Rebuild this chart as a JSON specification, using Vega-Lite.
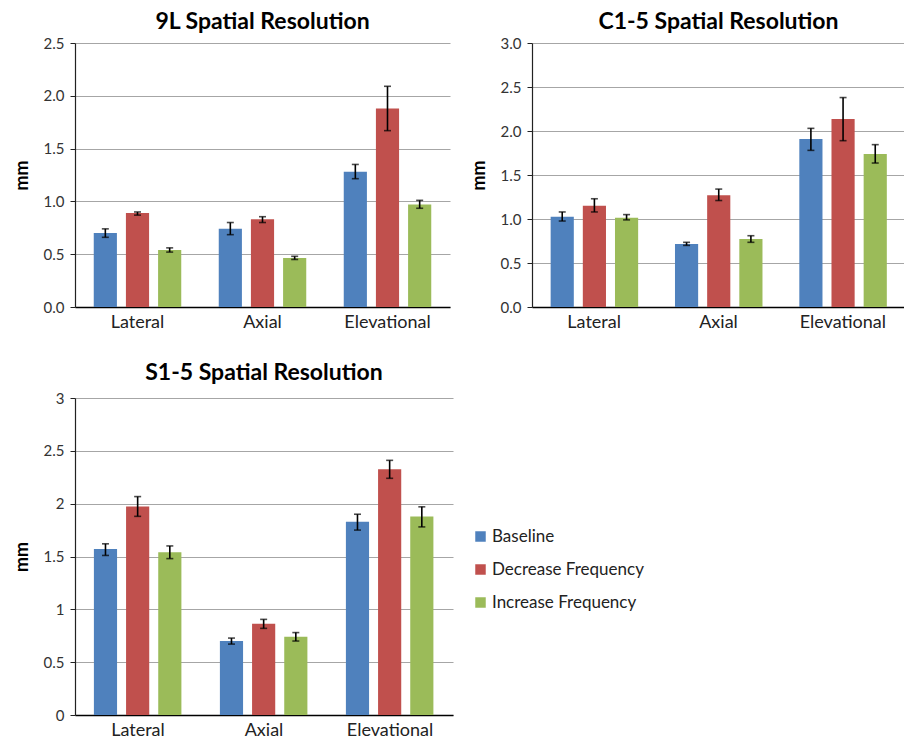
{
  "$schema": "https://vega.github.io/schema/vega-lite/v6.json",
  "padding": {"left": 13, "top": 11, "right": 0, "bottom": 0},
  "background": "white",
  "datasets": {
    "d": [
      {"panel": "9L", "dir": "Lateral", "cond": "Baseline", "value": 0.70, "lo": 0.66, "hi": 0.74},
      {"panel": "9L", "dir": "Lateral", "cond": "Decrease Frequency", "value": 0.89, "lo": 0.87, "hi": 0.90},
      {"panel": "9L", "dir": "Lateral", "cond": "Increase Frequency", "value": 0.54, "lo": 0.52, "hi": 0.56},
      {"panel": "9L", "dir": "Axial", "cond": "Baseline", "value": 0.74, "lo": 0.685, "hi": 0.80},
      {"panel": "9L", "dir": "Axial", "cond": "Decrease Frequency", "value": 0.83, "lo": 0.80, "hi": 0.855},
      {"panel": "9L", "dir": "Axial", "cond": "Increase Frequency", "value": 0.465, "lo": 0.45, "hi": 0.48},
      {"panel": "9L", "dir": "Elevational", "cond": "Baseline", "value": 1.28, "lo": 1.215, "hi": 1.35},
      {"panel": "9L", "dir": "Elevational", "cond": "Decrease Frequency", "value": 1.88, "lo": 1.67, "hi": 2.09},
      {"panel": "9L", "dir": "Elevational", "cond": "Increase Frequency", "value": 0.97, "lo": 0.935, "hi": 1.01},
      {"panel": "C1-5", "dir": "Lateral", "cond": "Baseline", "value": 1.025, "lo": 0.977, "hi": 1.08},
      {"panel": "C1-5", "dir": "Lateral", "cond": "Decrease Frequency", "value": 1.15, "lo": 1.08, "hi": 1.23},
      {"panel": "C1-5", "dir": "Lateral", "cond": "Increase Frequency", "value": 1.015, "lo": 0.99, "hi": 1.05},
      {"panel": "C1-5", "dir": "Axial", "cond": "Baseline", "value": 0.716, "lo": 0.70, "hi": 0.735},
      {"panel": "C1-5", "dir": "Axial", "cond": "Decrease Frequency", "value": 1.27, "lo": 1.21, "hi": 1.34},
      {"panel": "C1-5", "dir": "Axial", "cond": "Increase Frequency", "value": 0.773, "lo": 0.735, "hi": 0.81},
      {"panel": "C1-5", "dir": "Elevational", "cond": "Baseline", "value": 1.91, "lo": 1.78, "hi": 2.03},
      {"panel": "C1-5", "dir": "Elevational", "cond": "Decrease Frequency", "value": 2.135, "lo": 1.89, "hi": 2.38},
      {"panel": "C1-5", "dir": "Elevational", "cond": "Increase Frequency", "value": 1.74, "lo": 1.636, "hi": 1.845},
      {"panel": "S1-5", "dir": "Lateral", "cond": "Baseline", "value": 1.57, "lo": 1.51, "hi": 1.62},
      {"panel": "S1-5", "dir": "Lateral", "cond": "Decrease Frequency", "value": 1.973, "lo": 1.88, "hi": 2.067},
      {"panel": "S1-5", "dir": "Lateral", "cond": "Increase Frequency", "value": 1.54, "lo": 1.48, "hi": 1.60},
      {"panel": "S1-5", "dir": "Axial", "cond": "Baseline", "value": 0.70, "lo": 0.671, "hi": 0.728},
      {"panel": "S1-5", "dir": "Axial", "cond": "Decrease Frequency", "value": 0.864, "lo": 0.82, "hi": 0.905},
      {"panel": "S1-5", "dir": "Axial", "cond": "Increase Frequency", "value": 0.741, "lo": 0.70, "hi": 0.78},
      {"panel": "S1-5", "dir": "Elevational", "cond": "Baseline", "value": 1.828, "lo": 1.75, "hi": 1.90},
      {"panel": "S1-5", "dir": "Elevational", "cond": "Decrease Frequency", "value": 2.326, "lo": 2.24, "hi": 2.41},
      {"panel": "S1-5", "dir": "Elevational", "cond": "Increase Frequency", "value": 1.878, "lo": 1.78, "hi": 1.97}
    ]
  },
  "config": {
    "font": "Lato",
    "view": {"stroke": null},
    "title": {"fontSize": 23, "fontWeight": "bold", "font": "Lato", "color": "#000", "anchor": "middle", "offset": 2},
    "axisX": {"title": null, "labelAngle": 0, "ticks": false, "domainColor": "#000", "domainWidth": 1.5, "labelFontSize": 18, "labelColor": "#222", "labelPadding": 6, "grid": false, "labelFont": "Lato"},
    "axisY": {"titleFontSize": 18, "titleFontWeight": "bold", "titleColor": "#000", "titleFont": "Lato", "titlePadding": 12, "labelFontSize": 15, "labelColor": "#333", "labelPadding": 6, "labelFont": "Lato", "domainColor": "#222", "domainWidth": 1.2, "tickColor": "#222", "tickSize": 5, "gridColor": "#a6a6a6", "gridWidth": 1.2}
  },
  "resolve": {"legend": {"color": "independent"}},
  "spacing": 31,
  "vconcat": [
    {
      "hconcat": [
        {
          "title": "9L Spatial Resolution",
          "width": 375, "height": 264,
          "data": {"name": "d"},
          "transform": [{"filter": "datum.panel === '9L'"}],
          "encoding": {
            "x": {"field": "dir", "type": "nominal", "sort": ["Lateral", "Axial", "Elevational"], "scale": {"paddingInner": 0.3, "paddingOuter": 0.15}},
            "xOffset": {"field": "cond", "type": "nominal", "scale": {"paddingInner": 0.28}}
          },
          "layer": [
            {"mark": {"type": "bar"}, "encoding": {
              "y": {"field": "value", "type": "quantitative", "scale": {"domain": [0, 2.5], "nice": false}, "axis": {"title": "mm", "values": [0, 0.5, 1, 1.5, 2, 2.5], "format": ".1f"}},
              "color": {"field": "cond", "type": "nominal", "scale": {"domain": ["Baseline", "Decrease Frequency", "Increase Frequency"], "range": ["#4F81BD", "#C0504D", "#9BBB59"]}, "legend": null}}},
            {"mark": {"type": "rule", "color": "#000", "strokeWidth": 1.6}, "encoding": {"y": {"field": "lo", "type": "quantitative"}, "y2": {"field": "hi"}}},
            {"mark": {"type": "tick", "color": "#000", "size": 7, "thickness": 1.6}, "encoding": {"y": {"field": "lo", "type": "quantitative"}}},
            {"mark": {"type": "tick", "color": "#000", "size": 7, "thickness": 1.6}, "encoding": {"y": {"field": "hi", "type": "quantitative"}}}
          ]
        },
        {
          "title": "C1-5 Spatial Resolution",
          "width": 373, "height": 264,
          "data": {"name": "d"},
          "transform": [{"filter": "datum.panel === 'C1-5'"}],
          "encoding": {
            "x": {"field": "dir", "type": "nominal", "sort": ["Lateral", "Axial", "Elevational"], "scale": {"paddingInner": 0.3, "paddingOuter": 0.15}},
            "xOffset": {"field": "cond", "type": "nominal", "scale": {"paddingInner": 0.28}}
          },
          "layer": [
            {"mark": {"type": "bar"}, "encoding": {
              "y": {"field": "value", "type": "quantitative", "scale": {"domain": [0, 3], "nice": false}, "axis": {"title": "mm", "values": [0, 0.5, 1, 1.5, 2, 2.5, 3], "format": ".1f"}},
              "color": {"field": "cond", "type": "nominal", "scale": {"domain": ["Baseline", "Decrease Frequency", "Increase Frequency"], "range": ["#4F81BD", "#C0504D", "#9BBB59"]}, "legend": null}}},
            {"mark": {"type": "rule", "color": "#000", "strokeWidth": 1.6}, "encoding": {"y": {"field": "lo", "type": "quantitative"}, "y2": {"field": "hi"}}},
            {"mark": {"type": "tick", "color": "#000", "size": 7, "thickness": 1.6}, "encoding": {"y": {"field": "lo", "type": "quantitative"}}},
            {"mark": {"type": "tick", "color": "#000", "size": 7, "thickness": 1.6}, "encoding": {"y": {"field": "hi", "type": "quantitative"}}}
          ]
        }
      ],
      "spacing": 20,
      "resolve": {"legend": {"color": "independent"}, "scale": {"y": "independent"}}
    },
    {
      "title": {"text": "S1-5 Spatial Resolution", "offset": 6},
      "width": 378, "height": 317,
      "data": {"name": "d"},
      "transform": [{"filter": "datum.panel === 'S1-5'"}],
      "encoding": {
        "x": {"field": "dir", "type": "nominal", "sort": ["Lateral", "Axial", "Elevational"], "scale": {"paddingInner": 0.3, "paddingOuter": 0.15}},
        "xOffset": {"field": "cond", "type": "nominal", "scale": {"paddingInner": 0.28}}
      },
      "layer": [
        {"mark": {"type": "bar"}, "encoding": {
          "y": {"field": "value", "type": "quantitative", "scale": {"domain": [0, 3], "nice": false}, "axis": {"title": "mm", "values": [0, 0.5, 1, 1.5, 2, 2.5, 3], "format": "~g"}},
          "color": {"field": "cond", "type": "nominal", "title": null, "scale": {"domain": ["Baseline", "Decrease Frequency", "Increase Frequency"], "range": ["#4F81BD", "#C0504D", "#9BBB59"]},
            "legend": {"orient": "none", "legendX": 397, "legendY": 130, "symbolType": "square", "symbolSize": 110, "symbolStrokeWidth": 0, "labelFontSize": 17, "labelColor": "#222", "labelFont": "Lato", "rowPadding": 15, "labelOffset": 3, "labelLimit": 300}}}},
        {"mark": {"type": "rule", "color": "#000", "strokeWidth": 1.6}, "encoding": {"y": {"field": "lo", "type": "quantitative"}, "y2": {"field": "hi"}}},
        {"mark": {"type": "tick", "color": "#000", "size": 7, "thickness": 1.6}, "encoding": {"y": {"field": "lo", "type": "quantitative"}}},
        {"mark": {"type": "tick", "color": "#000", "size": 7, "thickness": 1.6}, "encoding": {"y": {"field": "hi", "type": "quantitative"}}}
      ]
    }
  ]
}
